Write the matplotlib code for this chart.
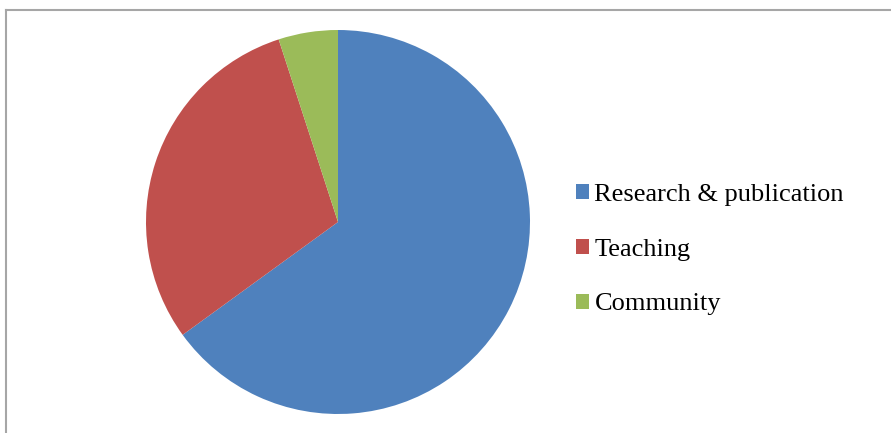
import matplotlib
matplotlib.use("Agg")
import matplotlib.pyplot as plt
from matplotlib.lines import Line2D
from matplotlib.patches import Patch

categories = ["Research & publication", "Teaching", "Community"]
values = [65, 30, 5]
colors = ["#4F81BD", "#C0504D", "#9BBB59"]

W, H = 891, 433
fig = plt.figure(figsize=(W / 100, H / 100), dpi=100)
fig.patch.set_facecolor("white")

# chart area border (top and left visible)
fig.add_artist(Line2D([6 / W, 6 / W], [0, 1 - 10 / H], transform=fig.transFigure,
                      color="#a6a6a6", lw=1.5))
fig.add_artist(Line2D([6 / W, 1], [1 - 10 / H, 1 - 10 / H], transform=fig.transFigure,
                      color="#a6a6a6", lw=1.5))

cx, cy, r = 338, 222, 192
ax = fig.add_axes([(cx - r) / W, (H - cy - r) / H, 2 * r / W, 2 * r / H])
wedges, _ = ax.pie(values, colors=colors, startangle=90, counterclock=False,
                   radius=1, wedgeprops=dict(linewidth=0))
ax.set_xlim(-1, 1)
ax.set_ylim(-1, 1)
ax.set_aspect("equal")
ax.axis("off")

handles = [Patch(facecolor=c, edgecolor="none") for c in colors]
leg = fig.legend(handles, categories, loc="upper left",
                 bbox_to_anchor=(576 / W, 1 - 184 / H), frameon=False,
                 prop=dict(family="Liberation Serif", size=19),
                 handlelength=0.5, handleheight=0.5, handletextpad=0.2,
                 labelspacing=1.24, borderpad=0, borderaxespad=0)

fig.savefig("out.png", dpi=100, facecolor="white")
